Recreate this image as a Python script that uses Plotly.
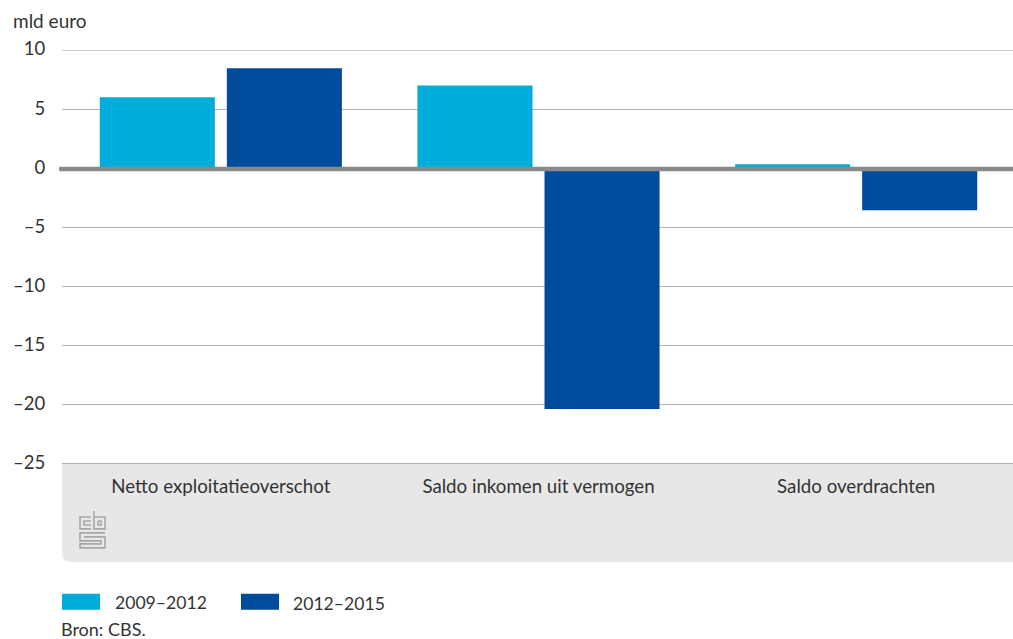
import plotly.graph_objects as go

categories = ["Netto exploitatieoverschot", "Saldo inkomen uit vermogen", "Saldo overdrachten"]
series_names = ["2009–2012", "2012–2015"]
values_2009_2012 = [6.0, 7.0, 0.35]
values_2012_2015 = [8.45, -20.35, -3.55]
y_ticks = [10, 5, 0, -5, -10, -15, -20, -25]
y_tick_labels = ["10", "5", "0", "–5", "–10", "–15", "–20", "–25"]

W, H = 1015, 639
L, T, B = 62, 49.5, 175
R = 0
FONT = "Lato, Carlito, sans-serif"
TXT = "#333333"
GREY = "#e7e7e7"
CYAN = "#00acd9"
BLUE = "#004c9c"


def px(x):
    return (x - L) / (W - L - R)


def py(y):
    return 1 - (y - T) / (H - T - B)


def rect(x0, y0, x1, y1, color):
    return dict(type="rect", xref="paper", yref="paper", x0=px(x0), x1=px(x1), y0=py(y0), y1=py(y1),
                fillcolor=color, line_width=0, layer="below")


def path(points, color="#a8a8a8", width=1.6):
    d = "M " + " L ".join(f"{px(a):.5f},{py(b):.5f}" for a, b in points)
    return dict(type="path", xref="paper", yref="paper", path=d, line=dict(color=color, width=width), layer="below")


def band_path():
    r = 9
    x0, x1, y0, y1 = 62, W, 464, 562
    d = (f"M {px(x0):.5f},{py(y0):.5f} L {px(x1):.5f},{py(y0):.5f} L {px(x1):.5f},{py(y1):.5f} "
         f"L {px(x0+r):.5f},{py(y1):.5f} "
         f"Q {px(x0):.5f},{py(y1):.5f} {px(x0):.5f},{py(y1-r):.5f} Z")
    return dict(type="path", xref="paper", yref="paper", path=d, fillcolor=GREY, line_width=0, layer="below")


fig = go.Figure()
fig.add_bar(x=categories, y=values_2009_2012, name=series_names[0], marker_color=CYAN, marker_line_width=0, showlegend=False)
fig.add_bar(x=categories, y=values_2012_2015, name=series_names[1], marker_color=BLUE, marker_line_width=0, showlegend=False)

shapes = [band_path()]
# logo
shapes += [
    path([(91, 517), (80, 517), (80, 529), (91, 529)]),
    path([(91, 521), (84, 521), (84, 525), (91, 525)]),
    path([(94, 511), (94, 529), (105, 529), (105, 517), (94, 517)]),
    path([(98, 521), (101, 521), (101, 525), (98, 525), (98, 521)]),
    path([(105, 533), (80, 533), (80, 541), (101, 541), (101, 544), (80, 544), (80, 548), (105, 548), (105, 537), (84, 537)]),
]
# swatches
shapes += [rect(62, 594, 100, 610, CYAN), rect(241, 594, 279, 610, BLUE)]
# top and bottom rules
shapes += [
    dict(type="line", xref="paper", yref="y", x0=0, x1=1, y0=10, y1=10, line=dict(color="#989898", width=1), layer="below"),
    dict(type="line", xref="paper", yref="y", x0=0, x1=1, y0=-25, y1=-25, line=dict(color="#b0b0b0", width=2), layer="below"),
]
# baseline above bars
shapes.append(dict(type="line", xref="paper", yref="y", x0=-0.003, x1=1, y0=-0.07, y1=-0.07,
                   line=dict(color="#8a8a8a", width=4.5), layer="above"))

ann = [
    dict(text="mld euro", x=px(11), y=py(20), xanchor="left", yanchor="middle", font_size=19),
    dict(text=series_names[0], x=px(113), y=py(603), xanchor="left", yanchor="middle", font_size=17.6),
    dict(text=series_names[1], x=px(291), y=py(604), xanchor="left", yanchor="middle", font_size=17.6),
    dict(text="Bron: CBS.", x=px(59), y=py(629.5), xanchor="left", yanchor="middle", font_size=18),
]
for a in ann:
    size = a.pop("font_size")
    a.update(xref="paper", yref="paper", showarrow=False, font=dict(family=FONT, size=size, color=TXT))

fig.update_layout(
    width=W, height=H, autosize=False, template=None,
    margin=dict(l=L, r=R, t=T, b=B, pad=0),
    paper_bgcolor="white", plot_bgcolor="white",
    barmode="group", bargap=0.2, bargroupgap=0.0945,
    font=dict(family=FONT, size=17, color=TXT),
    showlegend=False, shapes=shapes, annotations=ann,
    xaxis=dict(type="category", showgrid=False, zeroline=False, showline=False, ticks="outside", ticklen=6,
               tickcolor="rgba(0,0,0,0)", tickfont=dict(family=FONT, size=18.7, color=TXT)),
    yaxis=dict(range=[-25, 10], tickvals=y_ticks, ticktext=y_tick_labels, showgrid=True, gridcolor="#b4b4b4", gridwidth=1,
               zeroline=False, showline=False, ticks="outside", ticklen=12, tickcolor="rgba(0,0,0,0)",
               ticklabelshift=-1, tickfont=dict(family=FONT, size=18.5, color=TXT)),
)
fig.write_html("out.html", config=dict(displayModeBar=False),
               post_script="document.body.style.margin='0';document.documentElement.style.overflow='hidden';")
